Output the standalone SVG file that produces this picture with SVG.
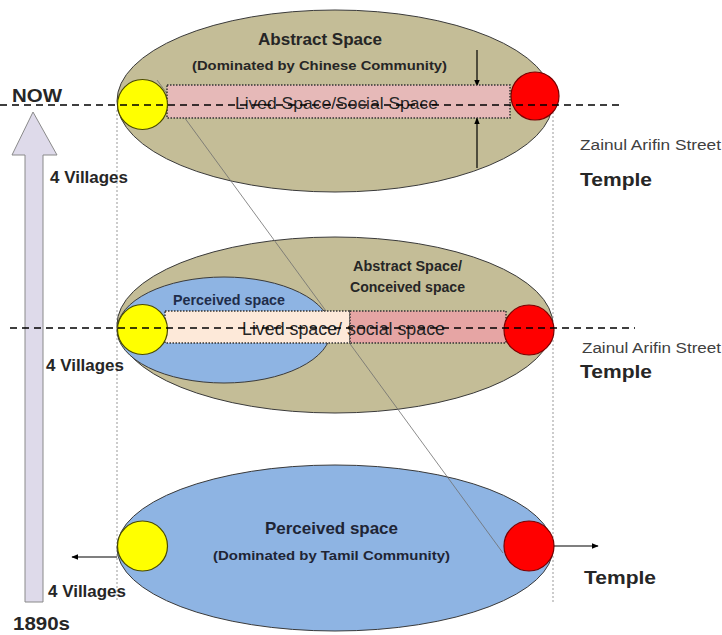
<svg xmlns="http://www.w3.org/2000/svg" width="722" height="635" viewBox="0 0 722 635">
<style>
text{font-family:"Liberation Sans",Arial,sans-serif;fill:#262626}
.b{font-weight:bold}
.khaki{fill:#c4bd97;stroke:#3a3a3a;stroke-width:1}
.blue{fill:#8eb4e3;stroke:#3a3a3a;stroke-width:1}
.yel{fill:#ffff00;stroke:#4a4a00;stroke-width:1.2}
.red{fill:#ff0000;stroke:#7a0000;stroke-width:1.2}
.dash{stroke:#000;stroke-width:1.5;stroke-dasharray:7 5;fill:none}
.dot{stroke:#999;stroke-width:1;stroke-dasharray:2 2;fill:none}
.rect{stroke:#333;stroke-width:1.5;stroke-dasharray:1.5 1.5}
.arr{stroke:#000;stroke-width:1.2;fill:none;marker-end:url(#ah)}
</style>
<defs>
<marker id="ah" viewBox="0 0 10 10" refX="9" refY="5" markerWidth="7" markerHeight="7" orient="auto" markerUnits="userSpaceOnUse">
<path d="M0,1 L10,5 L0,9 z" fill="#000"/>
</marker>
</defs>
<rect width="722" height="635" fill="#fff"/>
<g id="guides">
<line class="dot" x1="117" y1="110" x2="117" y2="600"/>
<line class="dot" x1="553" y1="108" x2="553" y2="602"/>
</g>
<g id="timeline">
<path d="M33,112 L57,155 L43,155 L43,602 L25,602 L25,155 L12,155 Z" fill="#dedaea" stroke="#8a8a8a" stroke-width="1"/>
<text class="b" x="12" y="102" font-size="19" textLength="50" lengthAdjust="spacingAndGlyphs">NOW</text>
<text class="b" x="13" y="630" font-size="19" textLength="57" lengthAdjust="spacingAndGlyphs">1890s</text>
</g>
<g id="now">
<ellipse class="khaki" cx="335" cy="101" rx="218" ry="91"/>
<text class="b" x="258" y="45" font-size="16" textLength="124" lengthAdjust="spacingAndGlyphs">Abstract Space</text>
<text class="b" x="192" y="70" font-size="13.5" textLength="255" lengthAdjust="spacingAndGlyphs">(Dominated by Chinese Community)</text>
</g>
<g id="middle">
<ellipse class="khaki" cx="335" cy="325" rx="218" ry="88"/>
<ellipse class="blue" cx="224" cy="330" rx="107" ry="53"/>
<text class="b" x="173" y="305" font-size="14" textLength="112" lengthAdjust="spacingAndGlyphs" style="fill:#1f2d4a">Perceived space</text>
<text class="b" x="353" y="271" font-size="14" textLength="109" lengthAdjust="spacingAndGlyphs">Abstract Space/</text>
<text class="b" x="350" y="292" font-size="14" textLength="115" lengthAdjust="spacingAndGlyphs">Conceived space</text>
</g>
<g id="past">
<ellipse class="blue" cx="335" cy="548" rx="218" ry="83"/>
<text class="b" x="265" y="534" font-size="17" textLength="133" lengthAdjust="spacingAndGlyphs" style="fill:#1f2535">Perceived space</text>
<text class="b" x="213" y="560" font-size="13.5" textLength="237" lengthAdjust="spacingAndGlyphs" style="fill:#1f2535">(Dominated by Tamil Community)</text>
</g>
<g id="connectors">
<line x1="157" y1="80" x2="503" y2="553" stroke="#6e6e6e" stroke-width="0.8"/>
<line class="arr" x1="477" y1="50" x2="477" y2="86"/>
<line class="arr" x1="477" y1="168" x2="477" y2="118"/>
<line class="arr" x1="117" y1="557" x2="72" y2="557"/>
<line class="arr" x1="553" y1="546" x2="598" y2="546"/>
</g>
<g id="lived-now">
<rect class="rect" x="167" y="85" width="343" height="33" fill="#e6b9b8"/>
<text x="235" y="109" font-size="17" textLength="203" lengthAdjust="spacingAndGlyphs">Lived Space/Social Space</text>
</g>
<g id="lived-middle">
<rect class="rect" x="165" y="311" width="185" height="32" fill="#fde9d9"/>
<rect class="rect" x="350" y="311" width="156" height="32" fill="#e6a5a4"/>
<text x="242" y="335" font-size="17.5" textLength="203" lengthAdjust="spacingAndGlyphs">Lived space/ social space</text>
</g>
<g id="villages">
<circle class="yel" cx="142.5" cy="104.5" r="25"/>
<circle class="yel" cx="142.5" cy="329.5" r="25"/>
<circle class="yel" cx="142.5" cy="546" r="25"/>
<text class="b" x="50" y="183" font-size="16.5" textLength="78" lengthAdjust="spacingAndGlyphs">4 Villages</text>
<text class="b" x="46" y="371" font-size="16.5" textLength="78" lengthAdjust="spacingAndGlyphs">4 Villages</text>
<text class="b" x="48" y="597" font-size="16.5" textLength="78" lengthAdjust="spacingAndGlyphs">4 Villages</text>
</g>
<g id="temple">
<circle class="red" cx="535" cy="96" r="24"/>
<circle class="red" cx="529" cy="330" r="25"/>
<circle class="red" cx="529" cy="546" r="25"/>
<text x="580" y="150" font-size="15.5" textLength="141" lengthAdjust="spacingAndGlyphs" style="fill:#404040">Zainul Arifin Street</text>
<text class="b" x="580" y="186" font-size="19" textLength="72" lengthAdjust="spacingAndGlyphs">Temple</text>
<text x="582" y="353" font-size="15.5" textLength="139" lengthAdjust="spacingAndGlyphs" style="fill:#404040">Zainul Arifin Street</text>
<text class="b" x="580" y="378" font-size="19" textLength="72" lengthAdjust="spacingAndGlyphs">Temple</text>
<text class="b" x="584" y="584" font-size="19" textLength="72" lengthAdjust="spacingAndGlyphs">Temple</text>
</g>
<g id="dashlines">
<line class="dash" x1="0" y1="105" x2="622" y2="105"/>
<line class="dash" x1="10" y1="328" x2="635" y2="328"/>
</g>
</svg>
